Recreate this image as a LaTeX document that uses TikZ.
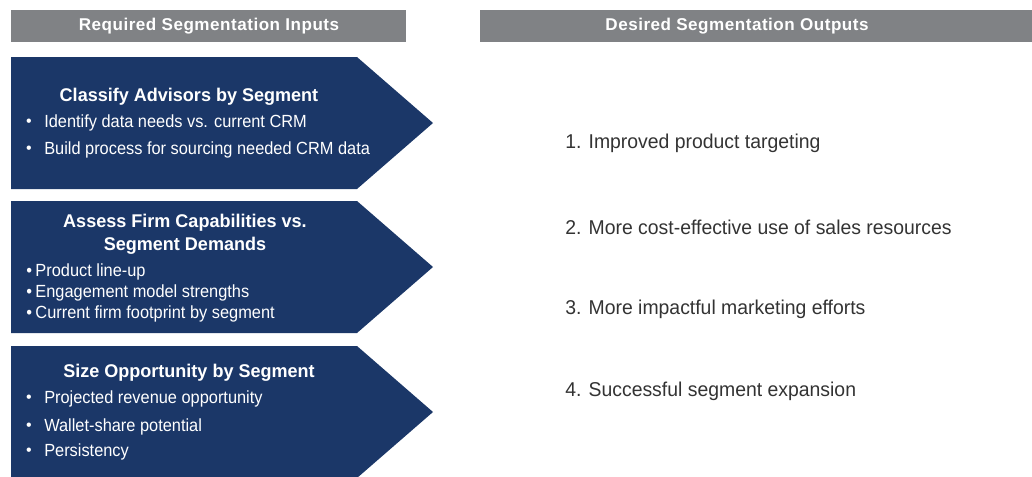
\documentclass[tikz,border=0pt]{standalone}
\usepackage{fontspec}
\setmainfont{Liberation Sans}
\newfontfamily\cond[FakeStretch=0.93]{Liberation Sans}
\newfontfamily\outf[FakeStretch=0.97]{Liberation Sans}
\newfontfamily\condb[FakeStretch=0.98]{Liberation Sans Bold}
\newfontfamily\hdrf[FakeStretch=1.0,LetterSpace=3]{Liberation Sans Bold}
\definecolor{navy}{HTML}{1B3768}
\definecolor{barg}{HTML}{808285}
\definecolor{outtxt}{HTML}{333333}
\begin{document}
\begin{tikzpicture}[x=0.75pt,y=-0.75pt,
  hdr/.style={fill=barg,draw=none},
  chev/.style={fill=navy,draw=none},
  hdrtxt/.style={text=white,font=\hdrf\fontsize{12.8pt}{14pt}\selectfont},
  ttl/.style={text=white,font=\condb\fontsize{13.8pt}{17.2pt}\selectfont,align=center},
  itm/.style={text=white,font=\cond\fontsize{13.2pt}{15pt}\selectfont,anchor=west,inner sep=0pt},
  dot/.style={text=white,font=\fontsize{12pt}{14pt}\selectfont,anchor=center,inner sep=0pt},
  outp/.style={text=outtxt,font=\outf\fontsize{15pt}{17pt}\selectfont,anchor=west,inner sep=0pt}]
\useasboundingbox (0,0) rectangle (1032,476);
% header bars
\fill[hdr] (11,10) rectangle (406,42);
\fill[hdr] (480,10) rectangle (1032,42);
\node[hdrtxt] (h1) at (209,26) {Required Segmentation Inputs};
\node[hdrtxt] (h2) at (737,26) {Desired Segmentation Outputs};
% chevrons
\fill[chev] (11,57) -- (357,57) -- (433,123) -- (357,189) -- (11,189) -- cycle;
\fill[chev] (11,201) -- (357,201) -- (433,267) -- (357,333) -- (11,333) -- cycle;
\fill[chev] (11,346) -- (357,346) -- (433,412) -- (357,478) -- (11,478) -- cycle;
% first block
\node[ttl] (t1) at (189,97) {Classify Advisors by Segment};
\node[dot] (b11) at (29,123) {\textbullet};
\node[itm] (i11) at (44,123) {Identify data needs vs. current CRM};
\node[dot] (b12) at (29,150) {\textbullet};
\node[itm] (i12) at (44,150) {Build process for sourcing needed CRM data};
% second block
\node[ttl] (t2) at (185,234) {Assess Firm Capabilities vs.\\Segment Demands};
\node[itm] (i21) at (26,272) {\textbullet\hspace{2.6pt}Product line-up};
\node[itm] (i22) at (26,293) {\textbullet\hspace{2.6pt}Engagement model strengths};
\node[itm] (i23) at (26,314) {\textbullet\hspace{2.6pt}Current firm footprint by segment};
% third block
\node[ttl] (t3) at (189,373) {Size Opportunity by Segment};
\node[dot] (b31) at (29,399) {\textbullet};
\node[itm] (i31) at (44,399) {Projected revenue opportunity};
\node[dot] (b32) at (29,427) {\textbullet};
\node[itm] (i32) at (44,427) {Wallet-share potential};
\node[dot] (b33) at (29,452) {\textbullet};
\node[itm] (i33) at (44,452) {Persistency};
% outputs
\node[outp] (o1) at (565,143) {1. Improved product targeting};
\node[outp] (o2) at (565,227) {2. More cost-effective use of sales resources};
\node[outp] (o3) at (565,309) {3. More impactful marketing efforts};
\node[outp] (o4) at (565,391) {4. Successful segment expansion};
\end{tikzpicture}
\end{document}
